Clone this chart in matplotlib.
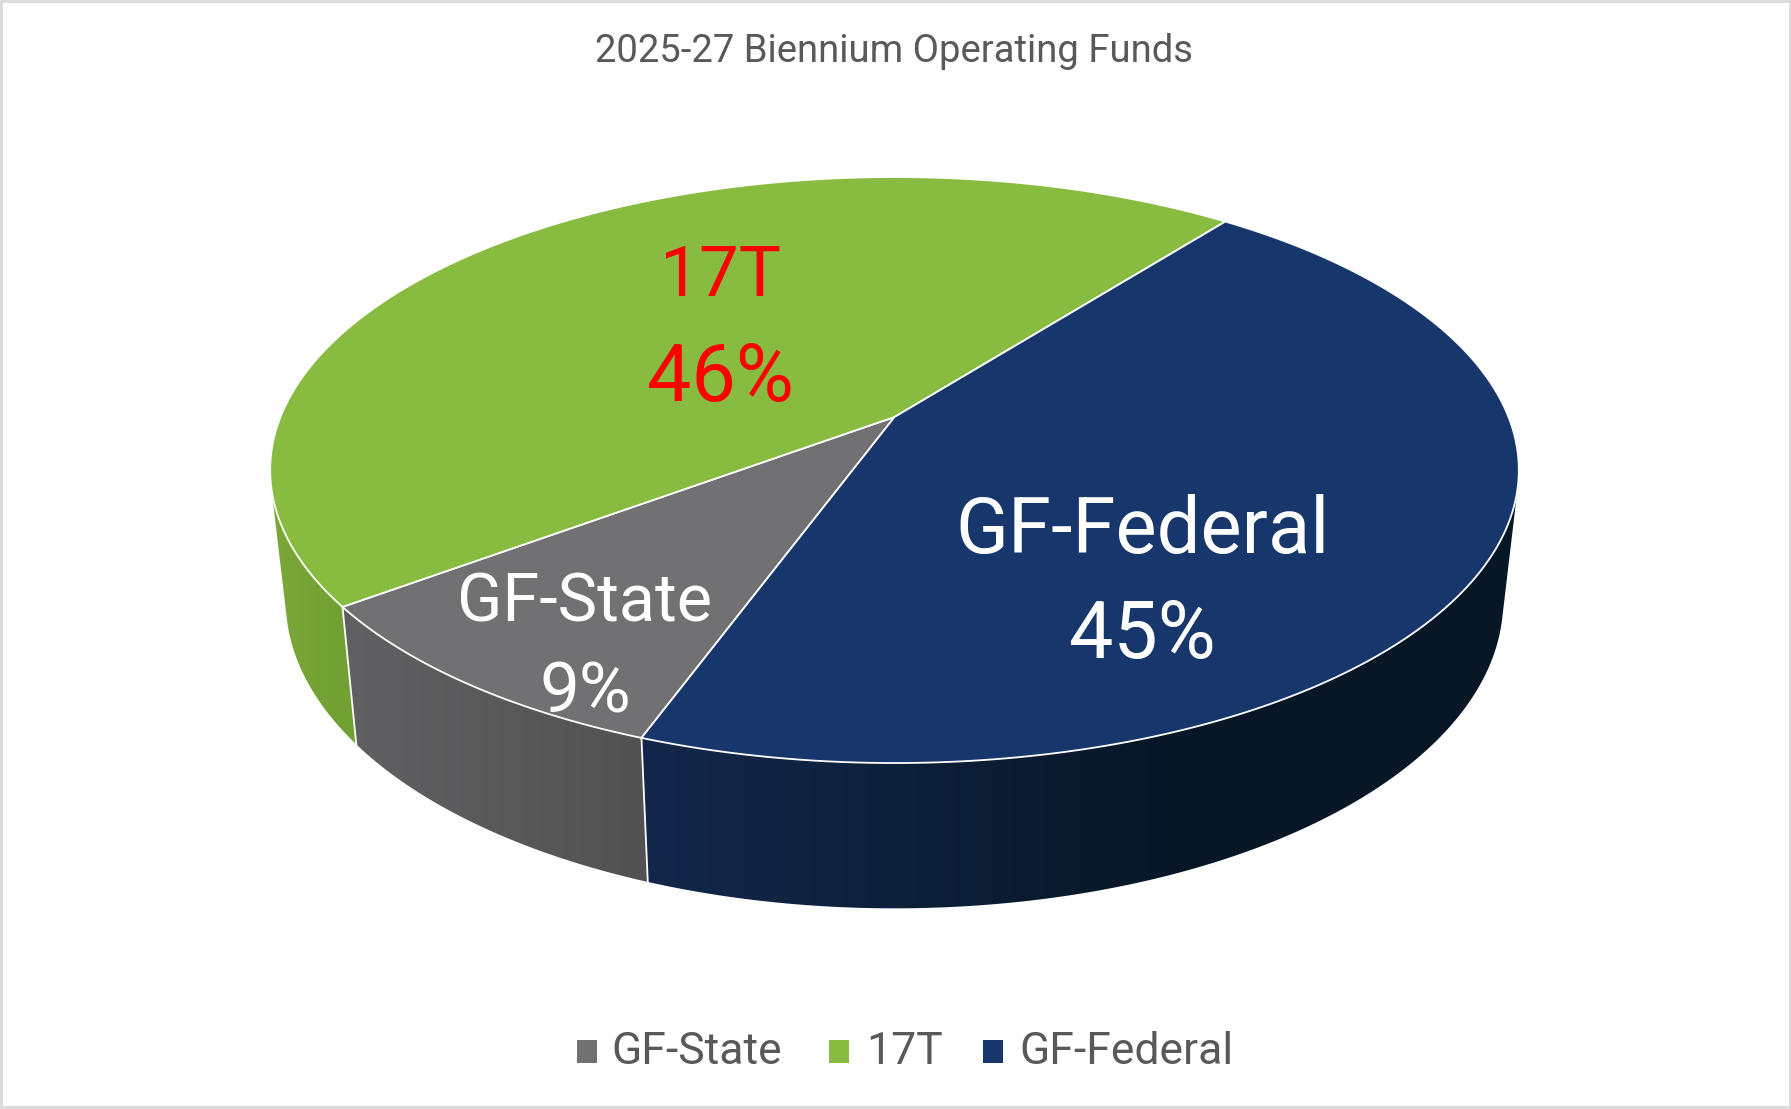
import matplotlib.pyplot as plt
import numpy as np
from matplotlib.colors import to_rgb
from matplotlib.patches import Polygon, Rectangle

title = "2025-27 Biennium Operating Funds"
categories = ["GF-State", "17T", "GF-Federal"]
shares = [9.25, 45.75, 45.0]

top_colors = ["#717072", "#87BC41", "#17366B"]
wall_left = ["#616062", "#7BA838", "#13274B"]
wall_right = ["#525253", "#71A033", "#071726"]
label_colors = ["white", "#FF0000", "white"]
grey_text = "#595959"

# centre of label block per slice, name y and percent y in pixels
label_x = [585, 720, 1142]
name_y = [603, 277, 532]
pct_y = [693, 379, 636]
name_size = [48, 51, 56]
pct_size = [51, 57, 57]

plt.rcParams["font.family"] = ["Roboto", "DejaVu Sans"]

# perspective of the disc, fitted on the reference in pixels
CX, CY = 894, 417
GX, GY, K = 614, 283.4, 0.181
BOTTOM_SX, BOTTOM_SY, BOTTOM_Y = 0.975, 1.05, 545
START = np.deg2rad(-110)


def top_xy(t):
    u, v = np.cos(t), np.sin(t)
    d = 1 + K * v
    return CX + GX * u / d + 0.5, CY - GY * v / d


def bottom_xy(t):
    u, v = np.cos(t), np.sin(t)
    d = 1 + K * v
    return CX + BOTTOM_SX * GX * u / d + 0.5, BOTTOM_Y - BOTTOM_SY * GY * v / d


def convex_hull(points):
    pts = sorted(map(tuple, points))

    def half(seq):
        out = []
        for p in seq:
            while len(out) > 1 and (out[-1][0] - out[-2][0]) * (p[1] - out[-2][1]) - (out[-1][1] - out[-2][1]) * (p[0] - out[-2][0]) <= 0:
                out.pop()
            out.append(p)
        return out[:-1]

    return np.array(half(pts) + half(pts[::-1]))


fig = plt.figure(figsize=(17.91, 11.09), dpi=100)
ax = fig.add_axes([0, 0, 1, 1])

fractions = np.array(shares) / np.sum(shares)
edges = START - 2 * np.pi * np.concatenate([[0], np.cumsum(fractions)])

# side walls: shaded image clipped to the hull of each slice
for i in [1, 2, 0]:
    ts = np.linspace(edges[i], edges[i + 1], 300)
    xt, yt = top_xy(ts)
    xb, yb = bottom_xy(ts)
    hull = convex_hull(np.column_stack([np.r_[xt, xb], np.r_[yt, yb]]))
    front = np.sin(ts) < 0.2
    x_lo = xt[front].min()
    x_hi = min(xt[front].max(), 1180 if i == 2 else 1e9)
    xs = np.linspace(0, 1791, 1791)
    f = np.clip((xs - x_lo) / (x_hi - x_lo), 0, 1)[None, :, None]
    c0, c1 = np.array(to_rgb(wall_left[i])), np.array(to_rgb(wall_right[i]))
    img = ax.imshow(c0 + (c1 - c0) * f, extent=(0, 1791, 1109, 0), aspect="auto", zorder=2 + 0.1 * [1, 2, 0].index(i))
    img.set_clip_path(Polygon(hull, closed=True, transform=ax.transData))

ax.set_xlim(0, 1791)
ax.set_ylim(1109, 0)
ax.axis("off")

ax.add_patch(Rectangle((1, 1), 1789, 1106, fill=False, ec="#D9D9D9", lw=2))

# white dividers on the visible walls
for t in edges[:3]:
    if np.sin(t) < 0:
        xt, yt = top_xy(t)
        xb, yb = bottom_xy(t)
        ax.plot([xt, xb], [yt, yb], color="white", lw=1.3, zorder=3)

# top face
for i in range(3):
    ts = np.linspace(edges[i], edges[i + 1], 300)
    xt, yt = top_xy(ts)
    pts = np.column_stack([np.r_[CX + 0.5, xt], np.r_[CY, yt]])
    ax.add_patch(Polygon(pts, closed=True, fc=top_colors[i], ec="white", lw=1.3, joinstyle="round", zorder=4))

for i, name in enumerate(categories):
    ax.text(label_x[i], name_y[i], name, color=label_colors[i], fontsize=name_size[i],
            ha="center", va="center", zorder=5)
    ax.text(label_x[i], pct_y[i], f"{round(shares[i])}%", color=label_colors[i], fontsize=pct_size[i],
            ha="center", va="center", zorder=5)

ax.text(894, 52, title, color=grey_text, fontsize=27.5, ha="center", va="center")

# legend
swatch_x = [577, 829, 983]
text_x = [611, 866, 1019]
for i, name in enumerate(categories):
    ax.add_patch(Rectangle((swatch_x[i], 1040), 20, 23, fc=top_colors[i], ec="none"))
    ax.text(text_x[i], 1052, name, color=grey_text, fontsize=32, ha="left", va="center")

fig.savefig("out.png", dpi=100)
